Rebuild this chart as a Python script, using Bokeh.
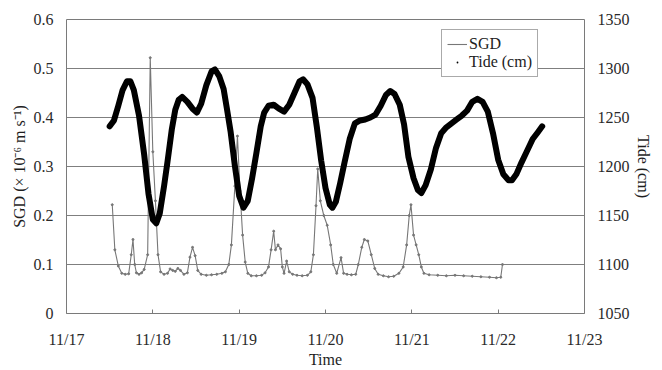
from bokeh.plotting import figure
from bokeh.models import (Range1d, LinearAxis, FixedTicker, Legend, LegendItem)
from bokeh.embed import file_html
from bokeh.resources import INLINE

# Time in days after 11/17 00:00
DATE_LABELS = ["11/17", "11/18", "11/19", "11/20", "11/21", "11/22", "11/23"]
SGD_TICKS = [0, 0.1, 0.2, 0.3, 0.4, 0.5, 0.6]
SGD_TICK_LABELS = ["0", "0.1", "0.2", "0.3", "0.4", "0.5", "0.6"]
TIDE_TICKS = [1050, 1100, 1150, 1200, 1250, 1300, 1350]

# Submarine groundwater discharge (x10^-6 m/s)
SGD_T = [0.53, 0.56, 0.60, 0.64, 0.68, 0.72, 0.75, 0.77, 0.79, 0.81, 0.84, 0.87,
         0.90, 0.94, 0.97, 1.00, 1.03, 1.06, 1.09, 1.13, 1.17, 1.20, 1.23, 1.26,
         1.29, 1.32, 1.36, 1.40, 1.43, 1.46, 1.49, 1.52, 1.56, 1.62, 1.68, 1.74,
         1.80, 1.84, 1.88, 1.91, 1.95, 1.98, 2.01, 2.04, 2.07, 2.10, 2.14, 2.20,
         2.26, 2.30, 2.34, 2.37, 2.40, 2.42, 2.45, 2.48, 2.50, 2.52, 2.55, 2.58,
         2.62, 2.67, 2.73, 2.79, 2.83, 2.86, 2.89, 2.91, 2.94, 2.98, 3.02, 3.06,
         3.09, 3.13, 3.18, 3.21, 3.25, 3.30, 3.35, 3.38, 3.42, 3.45, 3.49, 3.53,
         3.57, 3.61, 3.67, 3.73, 3.79, 3.85, 3.90, 3.94, 3.97, 3.99, 4.02, 4.05,
         4.08, 4.11, 4.14, 4.20, 4.30, 4.40, 4.50, 4.60, 4.70, 4.80, 4.90, 4.98,
         5.03, 5.05]
SGD_VAL = [0.222, 0.130, 0.097, 0.082, 0.080, 0.081, 0.120, 0.151, 0.100, 0.083, 0.080, 0.083,
           0.090, 0.120, 0.522, 0.330, 0.230, 0.120, 0.085, 0.080, 0.082, 0.091, 0.088, 0.086,
           0.092, 0.088, 0.080, 0.083, 0.115, 0.135, 0.118, 0.088, 0.080, 0.078, 0.079, 0.080,
           0.082, 0.085, 0.100, 0.140, 0.260, 0.362, 0.250, 0.160, 0.105, 0.082, 0.077, 0.077,
           0.078, 0.083, 0.095, 0.130, 0.168, 0.130, 0.140, 0.132, 0.095, 0.082, 0.107, 0.085,
           0.080, 0.078, 0.077, 0.078, 0.085, 0.120, 0.220, 0.295, 0.230, 0.200, 0.180, 0.140,
           0.100, 0.082, 0.114, 0.082, 0.080, 0.079, 0.080, 0.100, 0.135, 0.151, 0.148, 0.120,
           0.092, 0.080, 0.077, 0.075, 0.076, 0.082, 0.095, 0.140, 0.200, 0.222, 0.160, 0.140,
           0.120, 0.095, 0.082, 0.079, 0.078, 0.077, 0.078, 0.077, 0.076, 0.075, 0.074, 0.073,
           0.074, 0.100]

# Tide level (cm)
TIDE_T = [0.50, 0.55, 0.60, 0.65, 0.70, 0.74, 0.78, 0.84, 0.90, 0.95, 1.00, 1.04,
          1.08, 1.13, 1.17, 1.22, 1.26, 1.30, 1.34, 1.40, 1.46, 1.51, 1.56, 1.62,
          1.68, 1.72, 1.77, 1.82, 1.86, 1.90, 1.95, 2.00, 2.05, 2.10, 2.15, 2.20,
          2.25, 2.29, 2.34, 2.40, 2.46, 2.52, 2.58, 2.64, 2.70, 2.74, 2.79, 2.85,
          2.90, 2.95, 3.00, 3.05, 3.08, 3.12, 3.17, 3.22, 3.28, 3.34, 3.40, 3.46,
          3.52, 3.58, 3.64, 3.70, 3.75, 3.80, 3.86, 3.91, 3.96, 4.02, 4.07, 4.11,
          4.16, 4.22, 4.28, 4.34, 4.40, 4.46, 4.52, 4.58, 4.64, 4.70, 4.76, 4.82,
          4.88, 4.94, 5.00, 5.06, 5.12, 5.16, 5.21, 5.27, 5.33, 5.40, 5.46, 5.51]
TIDE_CM = [1241, 1247, 1262, 1278, 1287, 1287, 1278, 1252, 1212, 1172, 1146, 1142,
           1152, 1180, 1205, 1238, 1258, 1268, 1271, 1266, 1259, 1255, 1264, 1283,
           1297, 1299, 1292, 1279, 1258, 1236, 1201, 1170, 1158, 1165, 1188, 1214,
           1241, 1255, 1262, 1263, 1259, 1256, 1263, 1275, 1287, 1289, 1284, 1270,
           1240, 1206, 1178, 1161, 1158, 1164, 1183, 1204, 1228, 1244, 1247, 1248,
           1250, 1253, 1262, 1273, 1277, 1274, 1263, 1243, 1210, 1188, 1176, 1173,
           1181, 1197, 1219, 1234, 1240, 1244, 1248, 1252, 1257, 1266, 1269, 1266,
           1256, 1234, 1207, 1192, 1186, 1186, 1192, 1204, 1215, 1228, 1235, 1241]

FONT = "Liberation Serif"

p = figure(width=662, height=370, x_range=Range1d(0, 6), y_range=Range1d(0, 0.6),
           output_backend="svg", toolbar_location=None,
           min_border_left=66, min_border_right=78, min_border_top=19,
           min_border_bottom=56, x_axis_label="Time",
           y_axis_label="SGD (× 10⁻⁶ m s⁻¹)")
p.background_fill_color = "white"
p.border_fill_color = "white"
p.outline_line_color = "#7a7a7a"
p.outline_line_width = 1

p.extra_y_ranges = {"tide": Range1d(1050, 1350)}
right = LinearAxis(y_range_name="tide", axis_label="Tide (cm)")
p.add_layout(right, "right")

p.xgrid.grid_line_color = None
p.ygrid.grid_line_color = "#7f7f7f"
p.ygrid.grid_line_width = 1
p.ygrid.ticker = FixedTicker(ticks=SGD_TICKS)

p.xaxis.ticker = FixedTicker(ticks=list(range(len(DATE_LABELS))))
p.xaxis.major_label_overrides = {i: lab for i, lab in enumerate(DATE_LABELS)}
p.yaxis[0].ticker = FixedTicker(ticks=SGD_TICKS)
p.yaxis[0].major_label_overrides = dict(zip(SGD_TICKS, SGD_TICK_LABELS))
right.ticker = FixedTicker(ticks=TIDE_TICKS)

for ax in [p.xaxis[0], p.yaxis[0], right]:
    ax.axis_line_color = None
    ax.minor_tick_line_color = None
    ax.major_tick_out = 0
    ax.major_tick_in = 0
    ax.major_label_text_font = FONT
    ax.major_label_text_font_size = "16px"
    ax.major_label_text_color = "#2a2a2a"
    ax.axis_label_text_font = FONT
    ax.axis_label_text_font_size = "16px"
    ax.axis_label_text_font_style = "normal"
    ax.axis_label_text_color = "#1e1e1e"

p.xaxis.major_tick_in = 4
p.xaxis.major_tick_line_color = "#7a7a7a"
p.xaxis.major_label_standoff = 17
p.xaxis.axis_label_standoff = 0
p.yaxis[0].major_label_standoff = 13
p.yaxis[0].axis_label_standoff = 3
right.major_label_standoff = 13
right.axis_label_standoff = 2

# SGD: thin grey line with small markers
sgd_line = p.line(SGD_T, SGD_VAL, line_color="#777777", line_width=1.1)
p.scatter(SGD_T, SGD_VAL, size=2, color="#777777")

# Tide: dense black dots forming a thick trace
p.line(TIDE_T, TIDE_CM, y_range_name="tide", line_color="black", line_width=6,
       line_join="round", line_cap="round")
tide_dots = p.scatter(TIDE_T, TIDE_CM, y_range_name="tide", marker="dot",
                      size=8, color="black")

legend = Legend(items=[LegendItem(label="SGD", renderers=[sgd_line]),
                       LegendItem(label="Tide (cm)", renderers=[tide_dots])],
                location=(375, 236))
legend.border_line_color = "#555555"
legend.border_line_width = 1
legend.background_fill_color = "white"
legend.background_fill_alpha = 1
legend.label_text_font = FONT
legend.label_text_font_size = "16px"
legend.label_text_color = "#222222"
legend.padding = 5
legend.spacing = 0
legend.margin = 0
legend.glyph_width = 20
legend.glyph_height = 18
legend.label_height = 18
legend.label_standoff = 2
p.add_layout(legend)

open("out.html", "w").write(file_html(p, INLINE))
